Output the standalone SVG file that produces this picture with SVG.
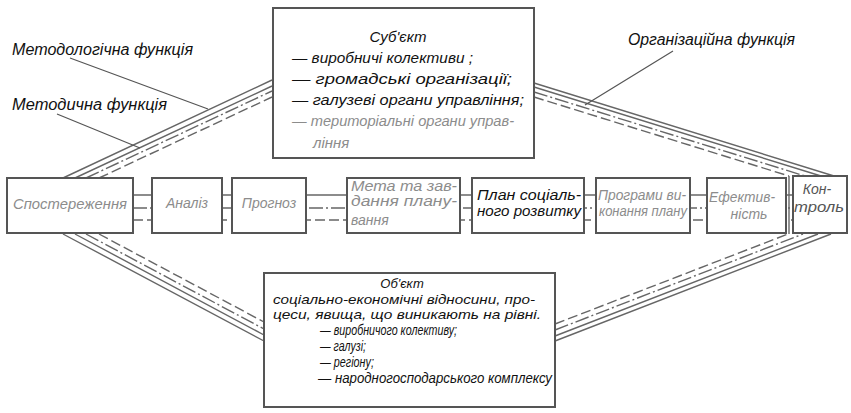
<svg xmlns="http://www.w3.org/2000/svg" width="851" height="413" viewBox="0 0 851 413">
<style>
text{font-family:"Liberation Sans","DejaVu Sans",sans-serif;font-style:italic;}
.lab{font-size:16px;fill:#111;}
.sub{font-size:15px;fill:#111;}
.faint{fill:#8c8c8c;}
.row{font-size:14px;fill:#8c8c8c;}
.dark{fill:#111;}
.obj{font-size:13px;fill:#111;}
.item{font-size:15px;fill:#111;}
.box{fill:#fff;stroke:#555;stroke-width:2;}
.s{fill:none;stroke:#666;stroke-width:1.4;}
.dd{fill:none;stroke:#666;stroke-width:1.4;stroke-dasharray:14 3 2 3;}
.da{fill:none;stroke:#666;stroke-width:1.4;stroke-dasharray:10 4;}
.ld{fill:none;stroke:#555;stroke-width:1.2;}
</style>
<rect width="851" height="413" fill="#fff"/>
<g id="connectors">
  <path class="s" d="M63 178L272 80M75 178L272 86"/>
  <path class="dd" d="M86 178L272 91"/>
  <path class="da" d="M99 178L272 97"/>
  <path class="s" d="M534 83L834 176M534 87L821 176"/>
  <path class="dd" d="M534 92L805 176"/>
  <path class="da" d="M534 97L789 176"/>
  <path class="s" d="M63 234L264 341M75 234L264 335"/>
  <path class="dd" d="M86 234L264 329"/>
  <path class="da" d="M99 234L264 322"/>
  <path class="s" d="M555 341L831 234M555 336L818 234"/>
  <path class="dd" d="M555 330L803 234"/>
  <path class="da" d="M555 324L788 234"/>
  <path class="s" d="M133 195H793"/>
  <path class="dd" d="M133 208H793"/>
  <path class="da" d="M133 220H793"/>
  <path class="s" d="M789 176V234"/>
  <path class="ld" d="M70 58L208 109M57 114L140 148M673 51L585 105"/>
</g>
<g id="labels">
  <text class="lab" x="12" y="55" textLength="181" lengthAdjust="spacingAndGlyphs">Методологічна функція</text>
  <text class="lab" x="12" y="110" textLength="155" lengthAdjust="spacingAndGlyphs">Методична функція</text>
  <text class="lab" x="628" y="45" textLength="167" lengthAdjust="spacingAndGlyphs">Організаційна функція</text>
</g>
<g id="subject">
  <rect class="box" x="273" y="8" width="261" height="150"/>
  <text class="sub" x="398" y="42" text-anchor="middle">Суб'єкт</text>
  <text class="sub" x="292" y="63" textLength="181" lengthAdjust="spacingAndGlyphs">— виробничі колективи ;</text>
  <text class="sub" x="292" y="84" textLength="220" lengthAdjust="spacingAndGlyphs">— громадські організації;</text>
  <text class="sub" x="292" y="105" textLength="232" lengthAdjust="spacingAndGlyphs">— галузеві органи управління;</text>
  <text class="sub faint" x="292" y="126" textLength="222" lengthAdjust="spacingAndGlyphs">— територіальні органи управ-</text>
  <text class="sub faint" x="313" y="148" font-size="13">ління</text>
</g>
<g id="n1"><rect class="box" x="7" y="178" width="126" height="55"/><text class="row" x="70" y="209" text-anchor="middle" textLength="114" lengthAdjust="spacingAndGlyphs">Спостереження</text></g>
<g id="n2"><rect class="box" x="152" y="178" width="70" height="55"/><text class="row" x="187" y="208" text-anchor="middle">Аналіз</text></g>
<g id="n3"><rect class="box" x="232" y="178" width="74" height="55"/><text class="row" x="269" y="208" text-anchor="middle">Прогноз</text></g>
<g id="n4"><rect class="box" x="347" y="178" width="113" height="55"/>
  <text class="row" x="351" y="191" textLength="106" lengthAdjust="spacingAndGlyphs">Мета та зав-</text>
  <text class="row" x="351" y="206" textLength="106" lengthAdjust="spacingAndGlyphs">дання плану-</text>
  <text class="row" x="351" y="225">вання</text></g>
<g id="n5"><rect class="box" x="472" y="178" width="112" height="55"/>
  <text class="row dark" x="477" y="200" textLength="104" lengthAdjust="spacingAndGlyphs">План соціаль-</text>
  <text class="row dark" x="477" y="216" textLength="104" lengthAdjust="spacingAndGlyphs">ного розвитку</text></g>
<g id="n6"><rect class="box" x="596" y="178" width="94" height="55"/>
  <text class="row" x="598" y="200" textLength="88" lengthAdjust="spacingAndGlyphs">Програми ви-</text>
  <text class="row" x="599" y="216" textLength="88" lengthAdjust="spacingAndGlyphs">конання плану</text></g>
<g id="n7"><rect class="box" x="707" y="178" width="79" height="55"/>
  <text class="row" x="709" y="202" textLength="66" lengthAdjust="spacingAndGlyphs">Ефектив-</text>
  <text class="row" x="749" y="219" text-anchor="middle">ність</text></g>
<g id="n8"><rect class="box" x="793" y="176" width="54" height="57"/>
  <text class="row" x="817" y="194" text-anchor="middle" font-size="13" style="fill:#555">Кон-</text>
  <text class="row" x="819" y="212" text-anchor="middle" font-size="13" style="fill:#555" textLength="50" lengthAdjust="spacingAndGlyphs">троль</text></g>
<g id="object">
  <rect class="box" x="264" y="273" width="291" height="134"/>
  <text class="obj" x="402" y="288" text-anchor="middle">Об'єкт</text>
  <text class="obj" x="273" y="304" textLength="262" lengthAdjust="spacingAndGlyphs">соціально-економічні відносини, про-</text>
  <text class="obj" x="273" y="319" textLength="268" lengthAdjust="spacingAndGlyphs">цеси, явища, що виникають на рівні.</text>
  <text class="item" x="320" y="335" textLength="137" lengthAdjust="spacingAndGlyphs">— виробничого колективу;</text>
  <text class="item" x="320" y="351" textLength="46" lengthAdjust="spacingAndGlyphs">— галузі;</text>
  <text class="item" x="320" y="367" textLength="54" lengthAdjust="spacingAndGlyphs">— регіону;</text>
  <text class="item" x="318" y="383" textLength="234" lengthAdjust="spacingAndGlyphs">— народногосподарського комплексу</text>
</g>
</svg>
